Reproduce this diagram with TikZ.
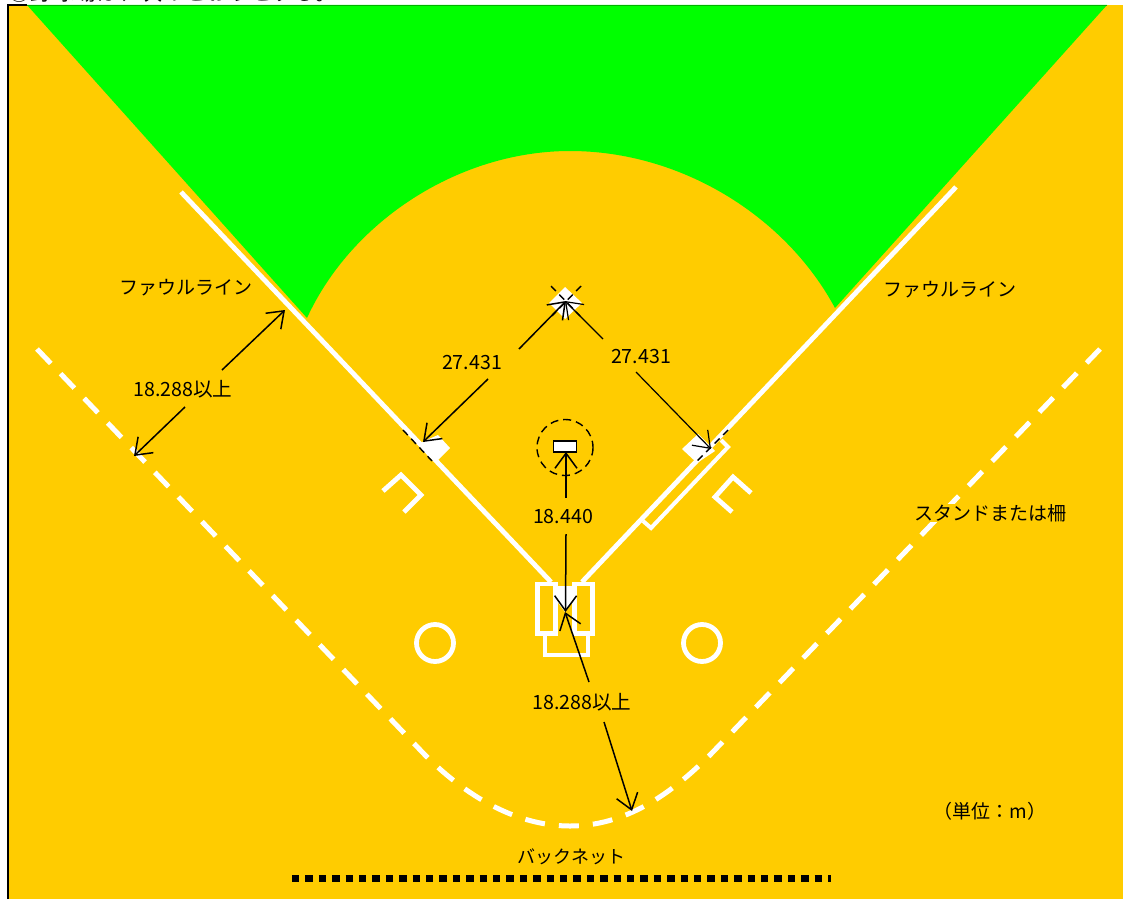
\documentclass[tikz,border=0pt]{standalone}
\usepackage{fontspec}
\setmainfont{Noto Sans CJK JP}
\usetikzlibrary{arrows.meta}
\definecolor{dirt}{HTML}{FFCC00}
\definecolor{grass}{HTML}{00FF00}
\tikzset{
  lbl/.style={inner sep=0pt,font=\fontsize{19}{21}\selectfont,text=black},
  numlbl/.style={lbl,font=\fontsize{19.6}{21}\selectfont},
  chalk/.style={draw=white,line width=4.8pt,line join=miter},
  fence/.style={draw=white,line width=5pt,dash pattern=on 20pt off 14.1pt},
  dim/.style={draw=black,line width=1.5pt,-{Straight Barb[length=15pt,width=22pt,line width=1.5pt]}},
  dimthin/.style={draw=black,line width=1.2pt,-{Straight Barb[length=15pt,width=22pt,line width=1.2pt]}},
  basepad/.style={fill=white},
  basedash/.style={draw=black,line width=1.4pt,dash pattern=on 7pt off 5pt},
}
\begin{document}
\begin{tikzpicture}[x=1pt,y=-1pt]
\useasboundingbox (0,0) rectangle (1123,899);
\fill[white] (0,0) rectangle (1123,899);
\begin{scope}
\clip (0,0) rectangle (1123,5);
\node[inner sep=0pt,anchor=west,font=\fontsize{22}{24}\selectfont] (head) at (8,-8) {②野球場は、次のとおりとする。};
\end{scope}
\fill[dirt] (8,5) rectangle (1123,899);
\fill[grass] (27,5) -- (307,318) .. controls (352,220) and (460,151) .. (570,151) .. controls (680,151) and (785,215) .. (835,308) -- (1107,5) -- cycle;
\draw[black,line width=1.6pt] (8,899) -- (8,5) -- (27,5);
\draw[grass!70!black,line width=0.8pt] (27,5) -- (1107,5);
% foul lines
\draw[chalk] (181,192) -- (551,582);
\draw[chalk] (956,187) -- (582,582);
\draw[chalk,line width=4pt] (643,521) -- (651,528) -- (728,447) -- (721,440);
% bases
\fill[basepad] (565,287) -- (582,303) -- (565,319) -- (549,303) -- cycle;
\fill[basepad] (438,435) -- (450,448) -- (437,461) -- (420,443) -- cycle;
\fill[basepad] (698,434) -- (715,451) -- (697,463) -- (682,449) -- cycle;
% coach boxes
\draw[chalk] (383,491) -- (401,475) -- (421,495) -- (404,512);
\draw[chalk] (751,493) -- (733,477) -- (715,497) -- (732,512);
% plate & batter boxes
\fill[basepad] (556,586) -- (574,586) -- (574,600) -- (565,612) -- (556,600) -- cycle;
\draw[chalk] (537.5,584) rectangle (555.5,633.5);
\draw[chalk] (574.5,584) rectangle (592.5,633.5);
\draw[chalk,line width=4.4pt] (545,634) -- (545,655) -- (588,655) -- (588,634);
% circles
\draw[chalk] (435,643) circle (18.5);
\draw[chalk] (702,643) circle (18.5);
% pitcher
\draw[black,line width=1.4pt,dash pattern=on 8pt off 5pt] (565,447.5) circle (28);
\node[draw=black,fill=white,line width=1.5pt,minimum width=23pt,minimum height=11pt,inner sep=0pt] (rubber) at (565,446.5) {};
% fence
\draw[fence] (37,349) -- (425,755) .. controls (470,800) and (520,826) .. (570,826) .. controls (625,826) and (670,795) .. (710,755) -- (1100,349);
% net
\draw[black,line width=7pt,dash pattern=on 7.4pt off 6pt] (292,878) -- (831,878);
% labels
\node[lbl] (fl) at (186,288) {ファウルライン};
\node[lbl] (fr) at (950,290) {ファウルライン};
\node[lbl,fill=dirt] (stand) at (990,513) {スタンドまたは柵};
\node[lbl] (unit) at (990,811) {（単位：m）};
\node[lbl,font=\fontsize{18}{20}\selectfont] (net) at (571,857) {バックネット};
\node[numlbl] (d1) at (183,389) {18.288以上};
\node[numlbl] (d2) at (472,363) {27.431};
\node[numlbl] (d3) at (641,357) {27.431};
\node[numlbl] (d4) at (563,517) {18.440};
\node[numlbl] (d5) at (582,702) {18.288以上};
% dimension ends
\coordinate (a1) at (285,310);
\coordinate (a2) at (134,456);
\coordinate (b2) at (566,301);
\coordinate (b1) at (423,442);
\coordinate (c2) at (565,301);
\coordinate (c1) at (711,449);
\coordinate (e1) at (566,452);
\coordinate (e2) at (565.5,612);
\coordinate (g1) at (565,612);
\coordinate (g2) at (632,811);
\draw[dim] (222,370) -- (a1);
\draw[dim] (185,407) -- (a2);
\draw[dim] (519,349) -- (b2);
\draw[dim] (488,379) -- (b1);
\draw[dimthin] (603,339) -- (c2);
\draw[dimthin] (636,372) -- (c1);
\draw[dim] (566,498) -- (e1);
\draw[dim] (566,534) -- (e2);
\draw[dim] (589,682) -- (g1);
\draw[dim] (604,722) -- (g2);
% extended base dashes
\draw[basedash] (403,430) -- (432,461);
\draw[basedash] (551,286) -- (580,316);
\draw[basedash] (581,286) -- (552,316);
\draw[basedash] (728,430) -- (696,462);
\end{tikzpicture}
\end{document}
